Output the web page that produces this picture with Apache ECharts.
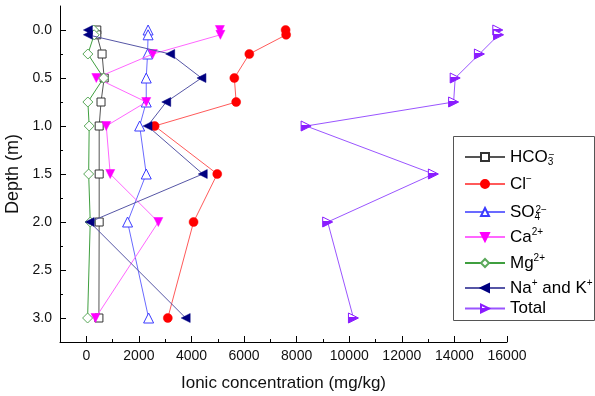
<!DOCTYPE html>
<html><head><meta charset="utf-8">
<script src="https://cdn.jsdelivr.net/npm/echarts@6/dist/echarts.min.js"></script>
<style>html,body{margin:0;padding:0;background:#fff}#c{width:595px;height:396px}</style>
</head><body><div id="c"></div>
<script>
// ---- data ----
const depths = [0, 0.05, 0.25, 0.5, 0.75, 1.0, 1.5, 2.0, 3.0];
const hco3  = [400, 400, 600, 680, 560, 490, 490, 490, 480];
const cl    = [7580, 7600, 6200, 5630, 5700, 2600, 4980, 4080, 3100];
const so4   = [2350, 2350, 2330, 2280, 2280, 2030, 2280, 1570, 2370];
const ca    = [5080, 5100, 2530, 380, 2280, 760, 910, 2740, 350];
const mg    = [280, 300, 60, 660, 60, 110, 90, 150, 50];
const naK   = [60, 60, 3190, 4380, 3040, 2330, 4430, 130, 3780];
const total = [15650, 15680, 14950, 14030, 13970, 8360, 13200, 9180, 10160];

const xTicks = [0, 2000, 4000, 6000, 8000, 10000, 12000, 14000, 16000];
const xMinorTicks = [1000, 3000, 5000, 7000, 9000, 11000, 13000, 15000];
const yTicks = [0, 0.5, 1.0, 1.5, 2.0, 2.5, 3.0];
const yMinorTicks = [0.25, 0.75, 1.25, 1.75, 2.25, 2.75];

const seriesNames = ['HCO3-', 'Cl-', 'SO42-', 'Ca2+', 'Mg2+', 'Na+ and K+', 'Total'];
const legendLabels = {
  'HCO3-': '{b|HCO}{sub|3}{sup2|−}',
  'Cl-': '{b|Cl}{sup|−}',
  'SO42-': '{b|SO}{sub|4}{sup2|2−}',
  'Ca2+': '{b|Ca}{sup|2+}',
  'Mg2+': '{b|Mg}{sup|2+}',
  'Na+ and K+': '{b|Na}{sup|+}{b| and K}{sup|+}',
  'Total': '{b|Total}'
};

// ---- styling ----
const FONT = 'Liberation Sans, Arial, sans-serif';
const totalFill = {type: 'linear', x: 0, y: 0, x2: 1, y2: 0, colorStops: [
  {offset: 0, color: '#ffffff'}, {offset: 0.45, color: '#ffffff'},
  {offset: 0.45, color: '#8a1cff'}, {offset: 1, color: '#8a1cff'}]};

const styles = [
  {vals: hco3,  symbol: 'rect',     size: 8,  rot: 0,   item: {color: '#ffffff', borderColor: '#333333', borderWidth: 1}, line: '#555555'},
  {vals: cl,    symbol: 'circle',   size: 9,  rot: 0,   item: {color: '#ff0000', borderColor: '#ff0000', borderWidth: 0.5}, line: '#ff5a5a'},
  {vals: so4,   symbol: 'triangle', size: 10, rot: 0,   item: {color: '#ffffff', borderColor: '#3b3bff', borderWidth: 1}, line: '#6a6aff'},
  {vals: ca,    symbol: 'triangle', size: 9,  rot: 180, item: {color: '#ff00ff', borderColor: '#ff00ff', borderWidth: 0.5}, line: '#ff66ff'},
  {vals: mg,    symbol: 'diamond',  size: 10, rot: 0,   item: {color: '#ffffff', borderColor: '#5aa85a', borderWidth: 1}, line: '#3f9f3f'},
  {vals: naK,   symbol: 'triangle', size: 9,  rot: 90,  item: {color: '#000080', borderColor: '#000080', borderWidth: 0.5}, line: '#5656a6'},
  {vals: total, symbol: 'triangle', size: 10, rot: -90, item: {color: totalFill, borderColor: '#8a1cff', borderWidth: 1}, line: '#9a55ff'}
];

const series = styles.map((s, i) => ({
  type: 'line',
  name: seriesNames[i],
  data: s.vals.map((v, k) => [v, depths[k]]),
  xAxisIndex: 0, yAxisIndex: 0,
  symbol: s.symbol, symbolSize: s.size, symbolRotate: s.rot,
  showAllSymbol: true,
  itemStyle: s.item,
  lineStyle: {width: 1, color: s.line},
  emphasis: {disabled: true},
  animation: false,
  z: 2 + i
}));

const rich = {
  b:    {fontSize: 17, fontFamily: FONT, color: '#000', lineHeight: 20},
  sup:  {fontSize: 10, fontFamily: FONT, color: '#000', lineHeight: 10, verticalAlign: 'top'},
  sup2: {fontSize: 10, fontFamily: FONT, color: '#000', lineHeight: 10, verticalAlign: 'top', padding: [3, 0, 0, 0]},
  sub:  {fontSize: 10, fontFamily: FONT, color: '#000', lineHeight: 10, verticalAlign: 'bottom', padding: [16, 0, 0, 0], width: 1}
};
const legendCenters = [154, 184, 209, 237, 263, 288, 310];
const legendHalf = [13, 10, 13, 10, 10, 10, 10];

const legends = seriesNames.map((n, i) => ({
  data: [n], orient: 'vertical', left: 464, top: legendCenters[i] - legendHalf[i],
  padding: 0, itemWidth: 40, itemHeight: 10, selectedMode: false,
  formatter: () => legendLabels[n],
  textStyle: {fontSize: 17, fontFamily: FONT, color: '#000', rich: rich}
}));

const option = {
  animation: false,
  backgroundColor: '#fff',
  grid: {left: 60, right: 88, top: 6, bottom: 54, containLabel: false, outerBoundsMode: 'none'},
  legend: legends,
  xAxis: [
    {
      type: 'value', min: -1000, max: 16000, position: 'bottom',
      axisLine: {show: true, onZero: false, lineStyle: {color: '#000', width: 1}},
      axisTick: {show: true, inside: true, length: 6, customValues: xTicks, lineStyle: {color: '#000'}},
      axisLabel: {customValues: xTicks, fontSize: 14, margin: 7, color: '#111', fontFamily: FONT,
                  formatter: v => String(Math.round(v))},
      splitLine: {show: false},
      name: 'Ionic concentration (mg/kg)', nameLocation: 'middle', nameGap: 33,
      nameTextStyle: {fontSize: 17, fontFamily: FONT, color: '#111'}
    },
    {
      type: 'value', min: -1000, max: 16000, position: 'bottom',
      axisLine: {show: false, onZero: false},
      axisTick: {show: true, inside: true, length: 3, customValues: xMinorTicks, lineStyle: {color: '#000'}},
      axisLabel: {show: false}, splitLine: {show: false}
    }
  ],
  yAxis: [
    {
      type: 'value', min: -0.25, max: 3.25, inverse: true, position: 'left',
      axisLine: {show: true, onZero: false, lineStyle: {color: '#000', width: 1}},
      axisTick: {show: true, inside: true, length: 6, customValues: yTicks, lineStyle: {color: '#000'}},
      axisLabel: {customValues: yTicks, fontSize: 14, margin: 8, color: '#111', fontFamily: FONT,
                  formatter: v => Number(v).toFixed(1)},
      splitLine: {show: false},
      name: 'Depth (m)', nameLocation: 'middle', nameGap: 32,
      nameTextStyle: {fontSize: 18, fontFamily: FONT, color: '#111'}
    },
    {
      type: 'value', min: -0.25, max: 3.25, inverse: true, position: 'left',
      axisLine: {show: false, onZero: false},
      axisTick: {show: true, inside: true, length: 3, customValues: yMinorTicks, lineStyle: {color: '#000'}},
      axisLabel: {show: false}, splitLine: {show: false}
    }
  ],
  graphic: [{
    type: 'rect', z: 100, silent: true,
    shape: {x: 453.5, y: 136.5, width: 141, height: 184},
    style: {fill: null, stroke: '#555', lineWidth: 1}
  }],
  series: series
};

const chart = echarts.init(document.getElementById('c'), null, {renderer: 'canvas'});
chart.setOption(option);
</script>
</body></html>
